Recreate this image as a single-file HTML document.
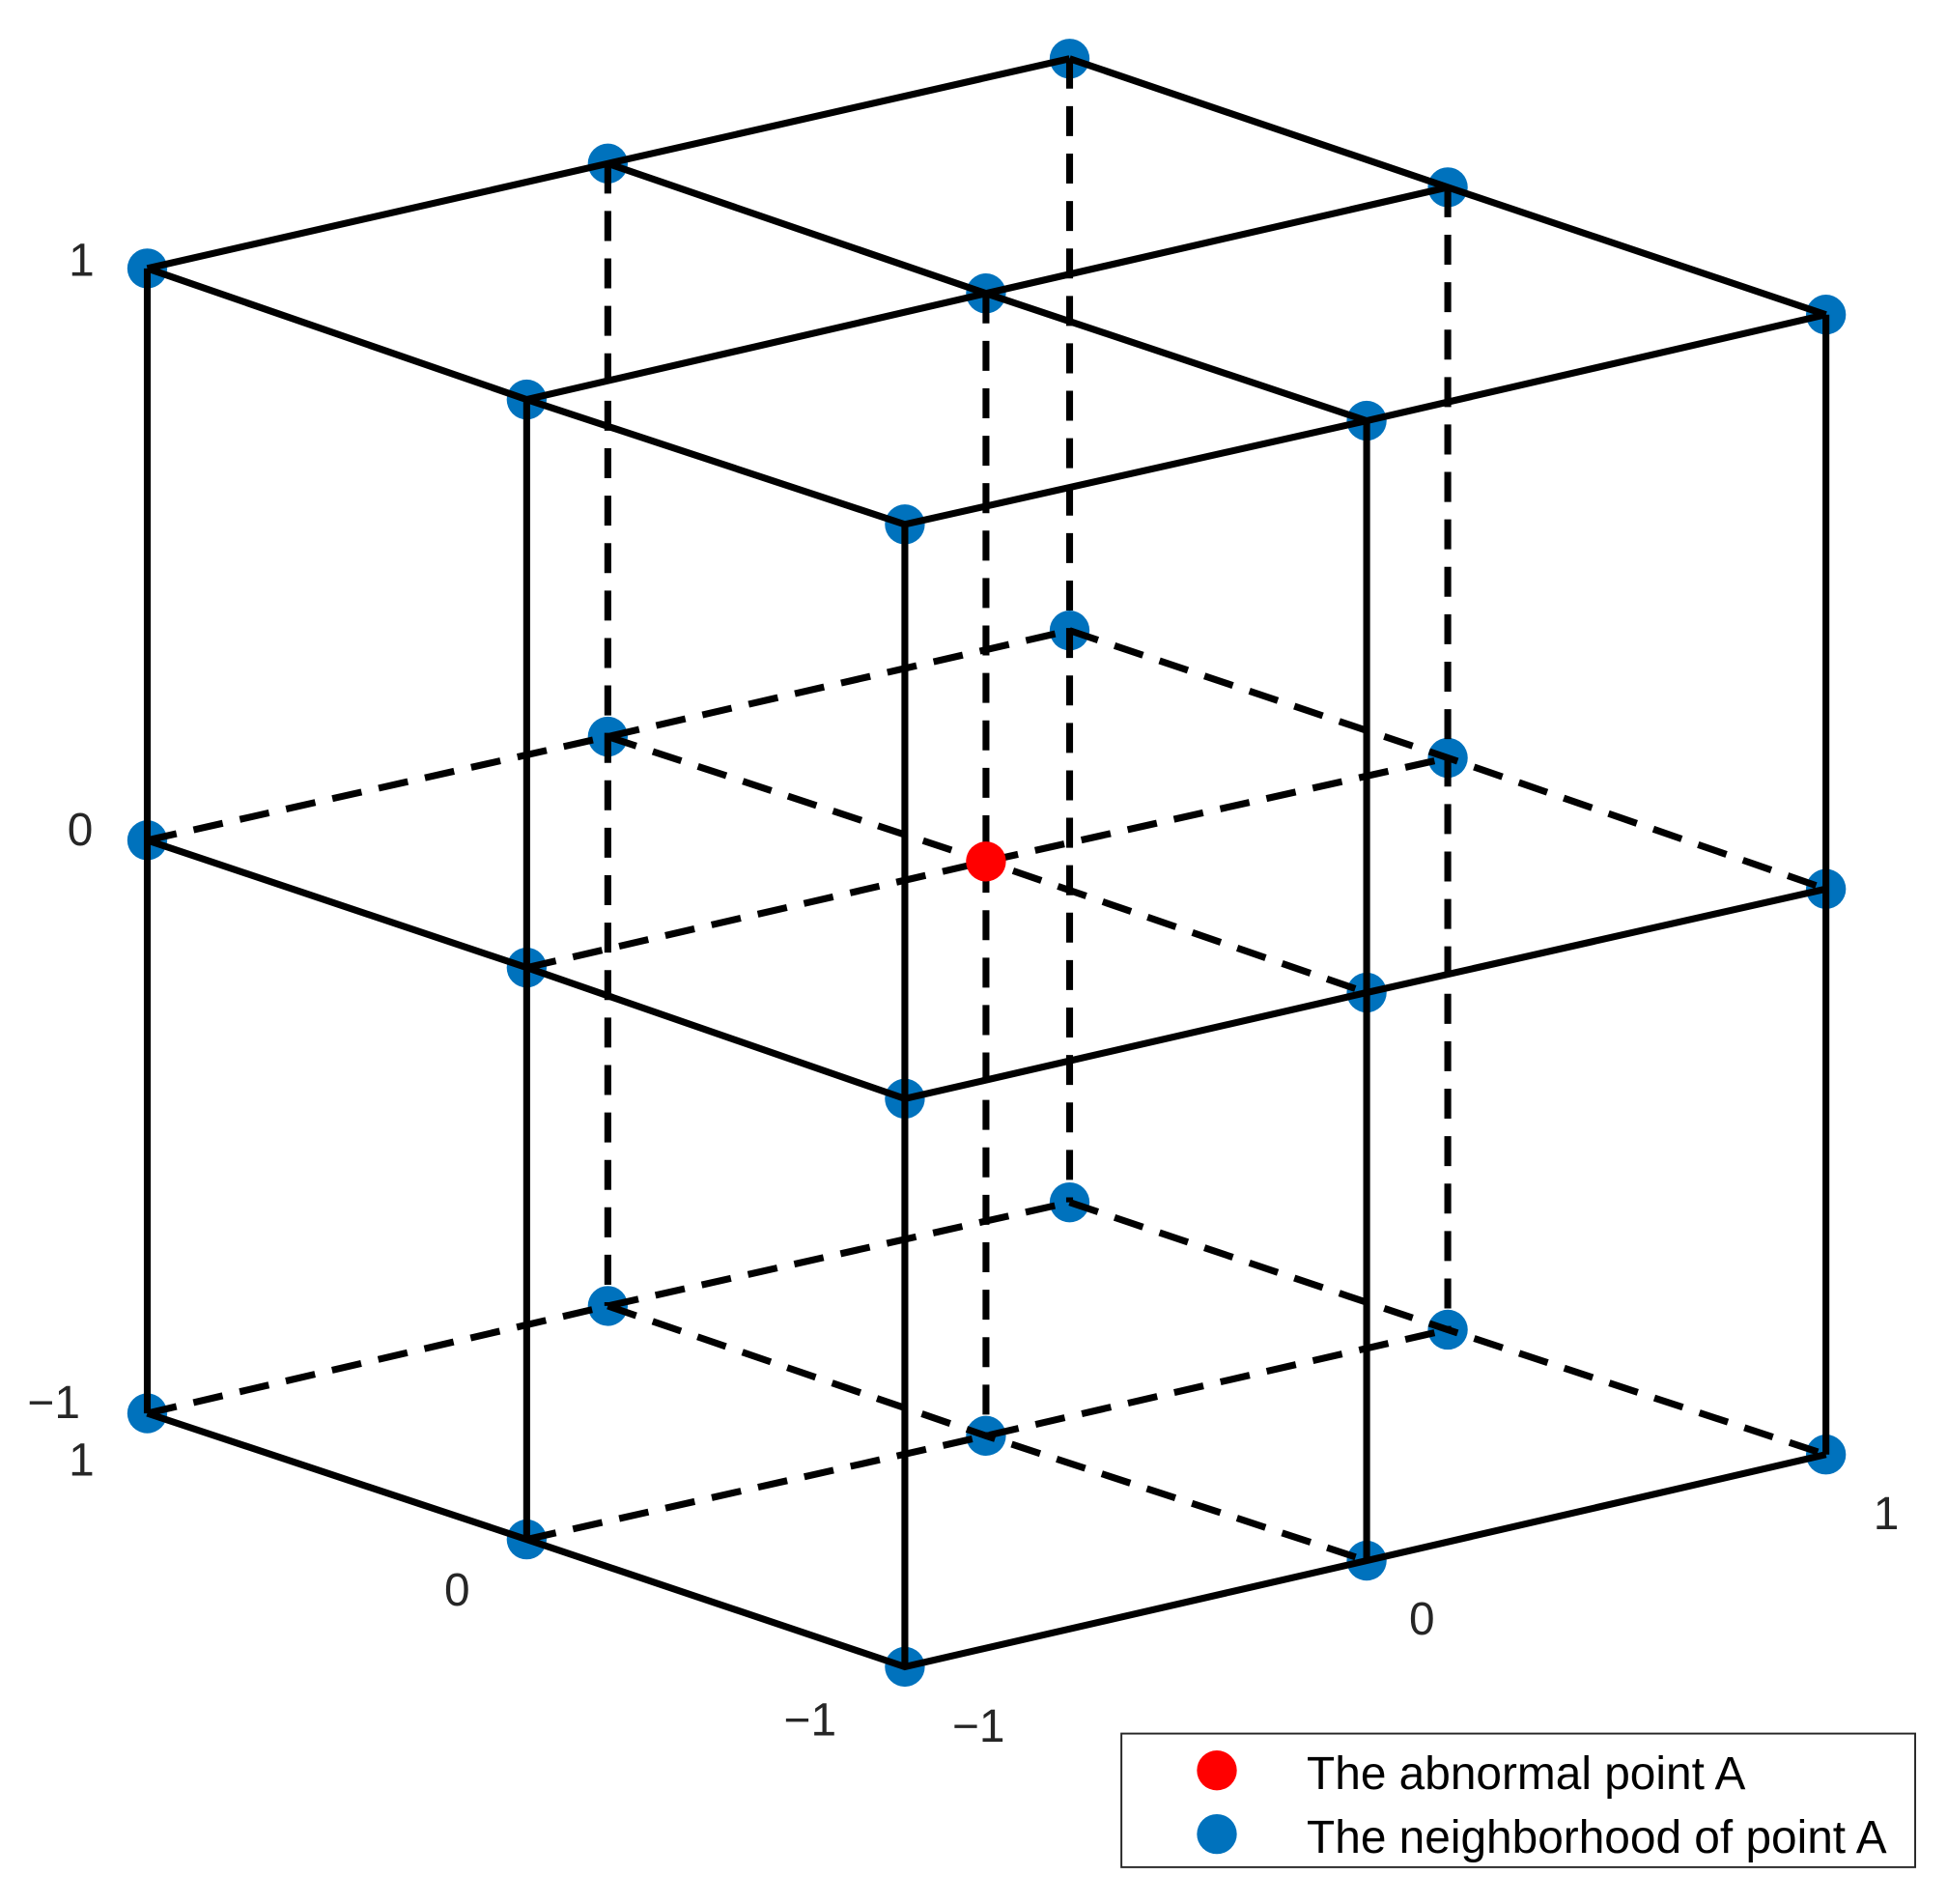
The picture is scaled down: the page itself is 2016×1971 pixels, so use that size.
<!DOCTYPE html>
<html><head><meta charset="utf-8"><style>
html,body{margin:0;padding:0;background:#fff}
svg{display:block}
text{font-family:"Liberation Sans",sans-serif;fill:#262626}
</style></head><body>
<svg width="2016" height="1971" viewBox="0 0 1560 1525" preserveAspectRatio="none" xmlns="http://www.w3.org/2000/svg">
<rect width="1560" height="1525" fill="#fff"/>
<g fill="#0072BD">
<circle cx="857" cy="47" r="16"/><circle cx="487" cy="131" r="16"/><circle cx="1160" cy="150" r="16"/>
<circle cx="118" cy="215" r="16"/><circle cx="790" cy="235" r="16"/><circle cx="1463" cy="252" r="16"/>
<circle cx="422" cy="320" r="16"/><circle cx="1095" cy="337" r="16"/><circle cx="725" cy="420" r="16"/>
<circle cx="857" cy="505" r="16"/><circle cx="487" cy="590" r="16"/><circle cx="1160" cy="607" r="16"/>
<circle cx="118" cy="673" r="16"/><circle cx="1463" cy="712" r="16"/>
<circle cx="422" cy="775" r="16"/><circle cx="1095" cy="795" r="16"/><circle cx="725" cy="880" r="16"/>
<circle cx="857" cy="963" r="16"/><circle cx="487" cy="1046" r="16"/><circle cx="1160" cy="1065" r="16"/>
<circle cx="118" cy="1132" r="16"/><circle cx="790" cy="1150" r="16"/><circle cx="1463" cy="1165" r="16"/>
<circle cx="422" cy="1233" r="16"/><circle cx="1095" cy="1250" r="16"/><circle cx="725" cy="1335" r="16"/>
</g>
<g stroke="#000" stroke-width="5.5" fill="none" stroke-linecap="butt">
<polyline points="857,47 487,131 118,215"/>
<polyline points="1160,150 790,235 422,320"/>
<polyline points="1463,252 1095,337 725,420"/>
<polyline points="857,47 1160,150 1463,252"/>
<polyline points="487,131 790,235 1095,337"/>
<polyline points="118,215 422,320 725,420"/>
<line x1="118" y1="215" x2="118" y2="1132"/>
<line x1="422" y1="320" x2="422" y2="1233"/>
<line x1="725" y1="420" x2="725" y2="1335"/>
<line x1="1095" y1="337" x2="1095" y2="1250"/>
<line x1="1463" y1="252" x2="1463" y2="1165"/>
<polyline points="118,673 422,775 725,880 1095,795 1463,712"/>
<polyline points="118,1132 422,1233 725,1335 1095,1250 1463,1165"/>
</g>
<g stroke="#000" stroke-width="5.5" fill="none" stroke-dasharray="24 14">
<line x1="857" y1="47" x2="857" y2="963"/>
<line x1="487" y1="131" x2="487" y2="1046"/>
<line x1="1160" y1="150" x2="1160" y2="1065"/>
<line x1="790" y1="235" x2="790" y2="1150"/>
<polyline points="118,673 487,590 857,505"/>
<polyline points="422,775 790,690 1160,607"/>
<polyline points="857,505 1160,607 1463,712"/>
<polyline points="487,590 790,690 1095,795"/>
<polyline points="118,1132 487,1046 857,963"/>
<polyline points="422,1233 790,1150 1160,1065"/>
<polyline points="857,963 1160,1065 1463,1165"/>
<polyline points="487,1046 790,1150 1095,1250"/>
</g>
<circle cx="790" cy="690" r="16" fill="#ff0000"/>
<g font-size="37">
<text x="55" y="221">1</text>
<text x="54" y="677">0</text>
<text x="22" y="1136">−1</text>
<text x="55" y="1182">1</text>
<text x="356" y="1286">0</text>
<text x="628" y="1390">−1</text>
<text x="763" y="1395">−1</text>
<text x="1129" y="1309">0</text>
<text x="1501" y="1225">1</text>
</g>
<rect x="898.5" y="1388.5" width="636" height="107" fill="#fff" stroke="#262626" stroke-width="1.5"/>
<circle cx="975" cy="1418" r="16" fill="#ff0000"/>
<circle cx="975" cy="1469" r="16" fill="#0072BD"/>
<g font-size="37">
<text x="1047" y="1433" style="fill:#000">The abnormal point A</text>
<text x="1047" y="1484" style="fill:#000">The neighborhood of point A</text>
</g>
</svg>
</body></html>
